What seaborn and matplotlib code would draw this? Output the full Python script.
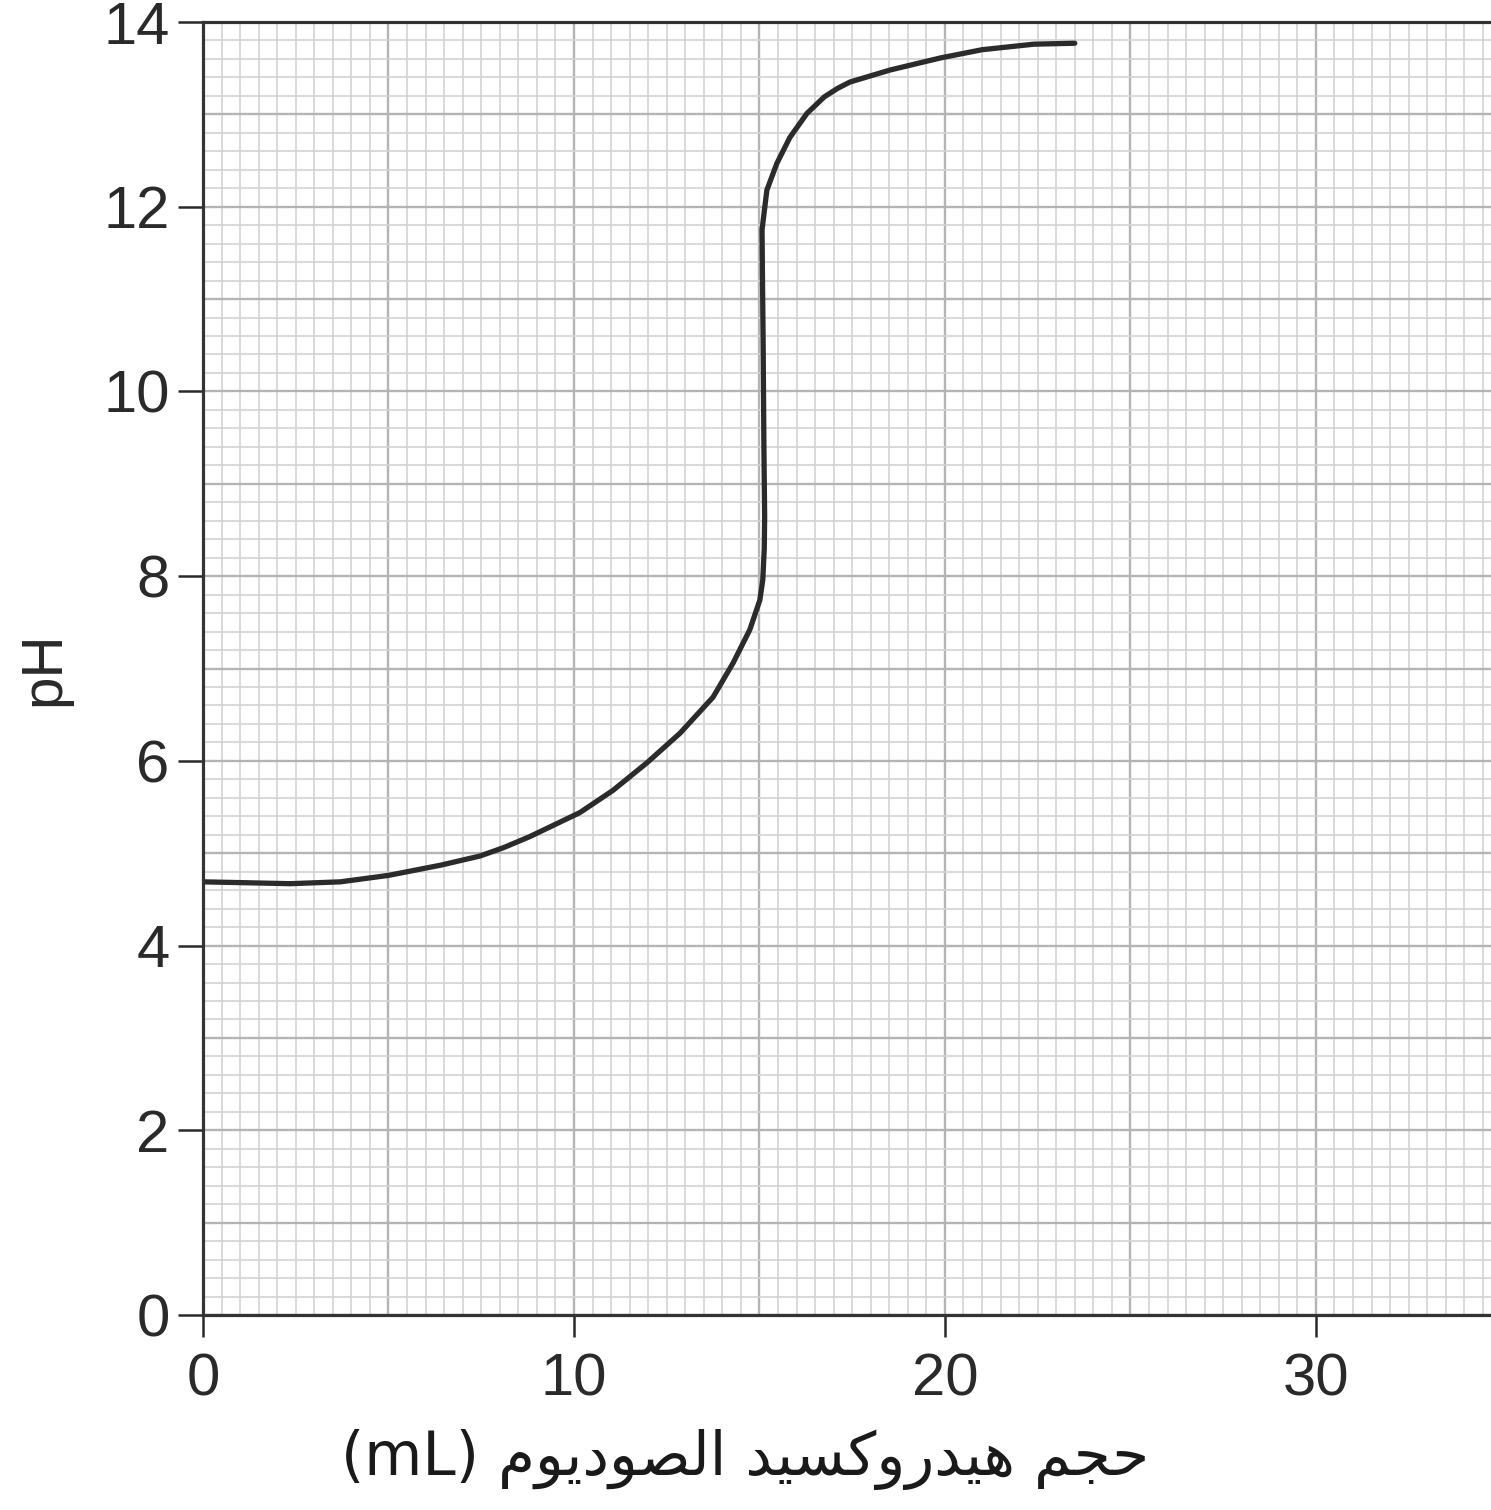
import numpy as np
import pandas as pd
import matplotlib
matplotlib.use("Agg")
import matplotlib.pyplot as plt
from matplotlib.ticker import MultipleLocator
import seaborn as sns

# ---------------- data ----------------
volume_ml = [0.0, 1.2, 2.35, 3.7, 5.0, 6.4, 7.47, 8.1, 8.81, 10.16, 11.05, 11.97, 12.86,
             13.75, 14.29, 14.74, 15.01, 15.09, 15.13, 15.14, 15.12, 15.10, 15.08,
             15.07, 15.20, 15.47, 15.82, 16.28, 16.75, 17.1, 17.44, 18.52, 19.87, 21.0,
             22.4, 23.5]
ph_values = [4.69, 4.68, 4.67, 4.69, 4.76, 4.87, 4.97, 5.06, 5.18, 5.44, 5.68, 5.98, 6.30,
             6.69, 7.06, 7.42, 7.74, 7.96, 8.30, 8.64, 9.40, 10.50, 11.30,
             11.75, 12.18, 12.47, 12.75, 13.01, 13.19, 13.28, 13.35, 13.48, 13.61, 13.70,
             13.76, 13.77]
x_ticks = [0, 10, 20, 30]
y_ticks = [0, 2, 4, 6, 8, 10, 12, 14]
x_label = "حجم هيدروكسيد الصوديوم (mL)"
y_label = "pH"

# ---------------- Arabic shaping for display (matplotlib has no shaping) ----------------
FORMS = {
    'ا': ('\uFE8D', '\uFE8E', None, None),
    'ج': ('\uFE9D', '\uFE9E', '\uFE9F', '\uFEA0'),
    'ح': ('\uFEA1', '\uFEA2', '\uFEA3', '\uFEA4'),
    'د': ('\uFEA9', '\uFEAA', None, None),
    'ر': ('\uFEAD', '\uFEAE', None, None),
    'س': ('\uFEB1', '\uFEB2', '\uFEB3', '\uFEB4'),
    'ص': ('\uFEB9', '\uFEBA', '\uFEBB', '\uFEBC'),
    'ك': ('\uFED9', '\uFEDA', '\uFEDB', '\uFEDC'),
    'ل': ('\uFEDD', '\uFEDE', '\uFEDF', '\uFEE0'),
    'م': ('\uFEE1', '\uFEE2', '\uFEE3', '\uFEE4'),
    'ه': ('\uFEE9', '\uFEEA', '\uFEEB', '\uFEEC'),
    'و': ('\uFEED', '\uFEEE', None, None),
    'ي': ('\uFEF1', '\uFEF2', '\uFEF3', '\uFEF4'),
}


def shape_word(w):
    out = []
    n = len(w)
    for i, c in enumerate(w):
        if c not in FORMS:
            out.append(c)
            continue
        prev_j = i > 0 and w[i - 1] in FORMS and FORMS[w[i - 1]][2] is not None
        next_j = i < n - 1 and w[i + 1] in FORMS and FORMS[c][2] is not None
        f = FORMS[c]
        if prev_j and next_j:
            out.append(f[3])
        elif prev_j:
            out.append(f[1])
        elif next_j:
            out.append(f[2])
        else:
            out.append(f[0])
    return ''.join(out)


def visual_rtl(s):
    words = s.split(' ')
    vis = []
    for w in words:
        if any(ch in FORMS for ch in w):
            vis.append(shape_word(w)[::-1])
        else:
            vis.append(w)
    return ' '.join(vis[::-1])


# ---------------- plot ----------------
sns.set_style("white")
plt.rcParams['font.family'] = ['Liberation Sans', 'DejaVu Sans']

df = pd.DataFrame({"volume": volume_ml, "pH": ph_values})

fig = plt.figure(figsize=(14.91, 15.10), dpi=100)
ax = fig.add_axes([203 / 1491, 1 - 1315 / 1510, 1 - 203 / 1491, (1315 - 22) / 1510])

sns.lineplot(data=df, x="volume", y="pH", ax=ax, sort=False, estimator=None,
             color="#2b2b2b", linewidth=3.8, zorder=5)
ax.lines[0].set_solid_joinstyle('round')
ax.lines[0].set_solid_capstyle('round')
ax.set_xlabel('')
ax.set_ylabel('')

ax.set_xlim(0, 34.72)
ax.set_ylim(0, 14)

ax.xaxis.set_major_locator(MultipleLocator(5))
ax.xaxis.set_minor_locator(MultipleLocator(0.5))
ax.yaxis.set_major_locator(MultipleLocator(1))
ax.yaxis.set_minor_locator(MultipleLocator(0.2))
ax.grid(which='minor', color='#d3d3d3', linewidth=1.2, zorder=0)
ax.grid(which='major', color='#b4b4b4', linewidth=1.7, zorder=1)
ax.set_axisbelow(True)
ax.tick_params(which='both', length=0, labelbottom=False, labelleft=False)

# labelled ticks drawn on twin axes sharing the same limits
axl = ax.twinx()
axl.set_ylim(ax.get_ylim())
axl.yaxis.set_ticks_position('left')
axl.yaxis.set_label_position('left')
axl.set_yticks(y_ticks)
axl.set_yticklabels([str(t) for t in y_ticks])
axl.tick_params(axis='y', direction='out', length=18, width=1.8, colors='#2a2a2a',
                labelsize=43, pad=6)
axb = ax.twiny()
axb.set_xlim(ax.get_xlim())
axb.xaxis.set_ticks_position('bottom')
axb.xaxis.set_label_position('bottom')
axb.set_xticks(x_ticks)
axb.set_xticklabels([str(t) for t in x_ticks])
axb.tick_params(axis='x', direction='out', length=16, width=1.8, colors='#2a2a2a',
                labelsize=43, pad=11)

for a in (ax, axl, axb):
    a.spines['right'].set_visible(False)
    for side in ('left', 'bottom', 'top'):
        a.spines[side].set_color('#333333')
        a.spines[side].set_linewidth(2.2)

axl.set_ylabel(y_label, fontsize=42, color='#2a2a2a')
axl.yaxis.set_label_coords(-0.102, 0.5)

axb.set_xlabel(visual_rtl(x_label), fontsize=43, color='#1a1a1a',
               fontfamily=['DejaVu Sans'])
axb.xaxis.set_label_coords(0.421, -0.088)

fig.savefig("out.png", dpi=100)
